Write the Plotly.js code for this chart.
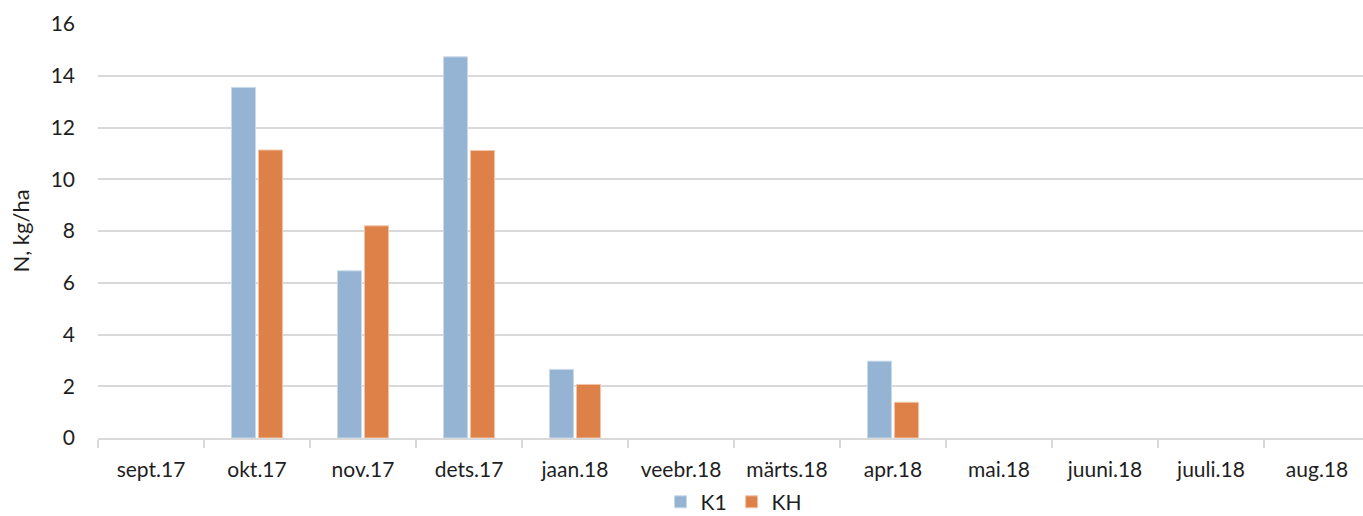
<!DOCTYPE html>
<html>
<head>
<meta charset="utf-8">
<script src="https://cdn.plot.ly/plotly-3.0.1.min.js"></script>
<style>
  html, body { margin: 0; padding: 0; background: #fff; overflow: hidden; }
  #chart { width: 1370px; height: 516px; }
</style>
</head>
<body>
<div id="chart"></div>
<script>
// Monthly nitrogen load (N, kg/ha) for two plots
const months = ["sept.17", "okt.17", "nov.17", "dets.17", "jaan.18", "veebr.18",
                "märts.18", "apr.18", "mai.18", "juuni.18", "juuli.18", "aug.18"];
const k1 = [null, 13.55, 6.46, 14.73, 2.65, null, null, 2.97, null, null, null, null];
const kh = [null, 11.13, 8.20, 11.11, 2.07, null, null, 1.38, null, null, null, null];

const FONT = "Lato, 'Open Sans', sans-serif";
const GRID = "#d9d9d9";

const traces = [
  { type: "bar", name: "K1", x: months, y: k1,
    marker: { color: "#95b3d3", line: { color: "#c9d9ea", width: 1 } } },
  { type: "bar", name: "KH", x: months, y: kh,
    marker: { color: "#de8149", line: { color: "#f2c4a8", width: 1 } } }
];

const layout = {
  width: 1370, height: 516,
  margin: { l: 98, r: 0, t: 24, b: 78, autoexpand: false },
  paper_bgcolor: "#fff", plot_bgcolor: "#fff",
  font: { family: FONT, size: 21, color: "#1e1e1e" },
  barmode: "group",
  bargap: 0.49,
  bargroupgap: 0.11,
  showlegend: true,
  legend: { orientation: "h", x: 0.5, xanchor: "center", y: -0.155, yanchor: "middle",
            font: { size: 21 }, itemwidth: 30, tracegroupgap: 0 },
  xaxis: {
    type: "category", automargin: false,
    showgrid: false,
    showline: true, linecolor: GRID, linewidth: 2,
    ticks: "outside", tickson: "boundaries", ticklen: 8, tickcolor: GRID, tickwidth: 2,
    ticklabelstandoff: 12,
    tickfont: { size: 21 }
  },
  yaxis: {
    range: [0, 16], dtick: 2, automargin: false,
    showgrid: true, gridcolor: GRID, gridwidth: 2,
    zeroline: false, showline: false, ticks: "",
    ticklabelstandoff: 22,
    tickfont: { size: 21 },
    title: { text: "N, kg/ha", font: { size: 22 }, standoff: 14 }
  }
};

Plotly.newPlot("chart", traces, layout, { displayModeBar: false, staticPlot: true });
</script>
</body>
</html>
